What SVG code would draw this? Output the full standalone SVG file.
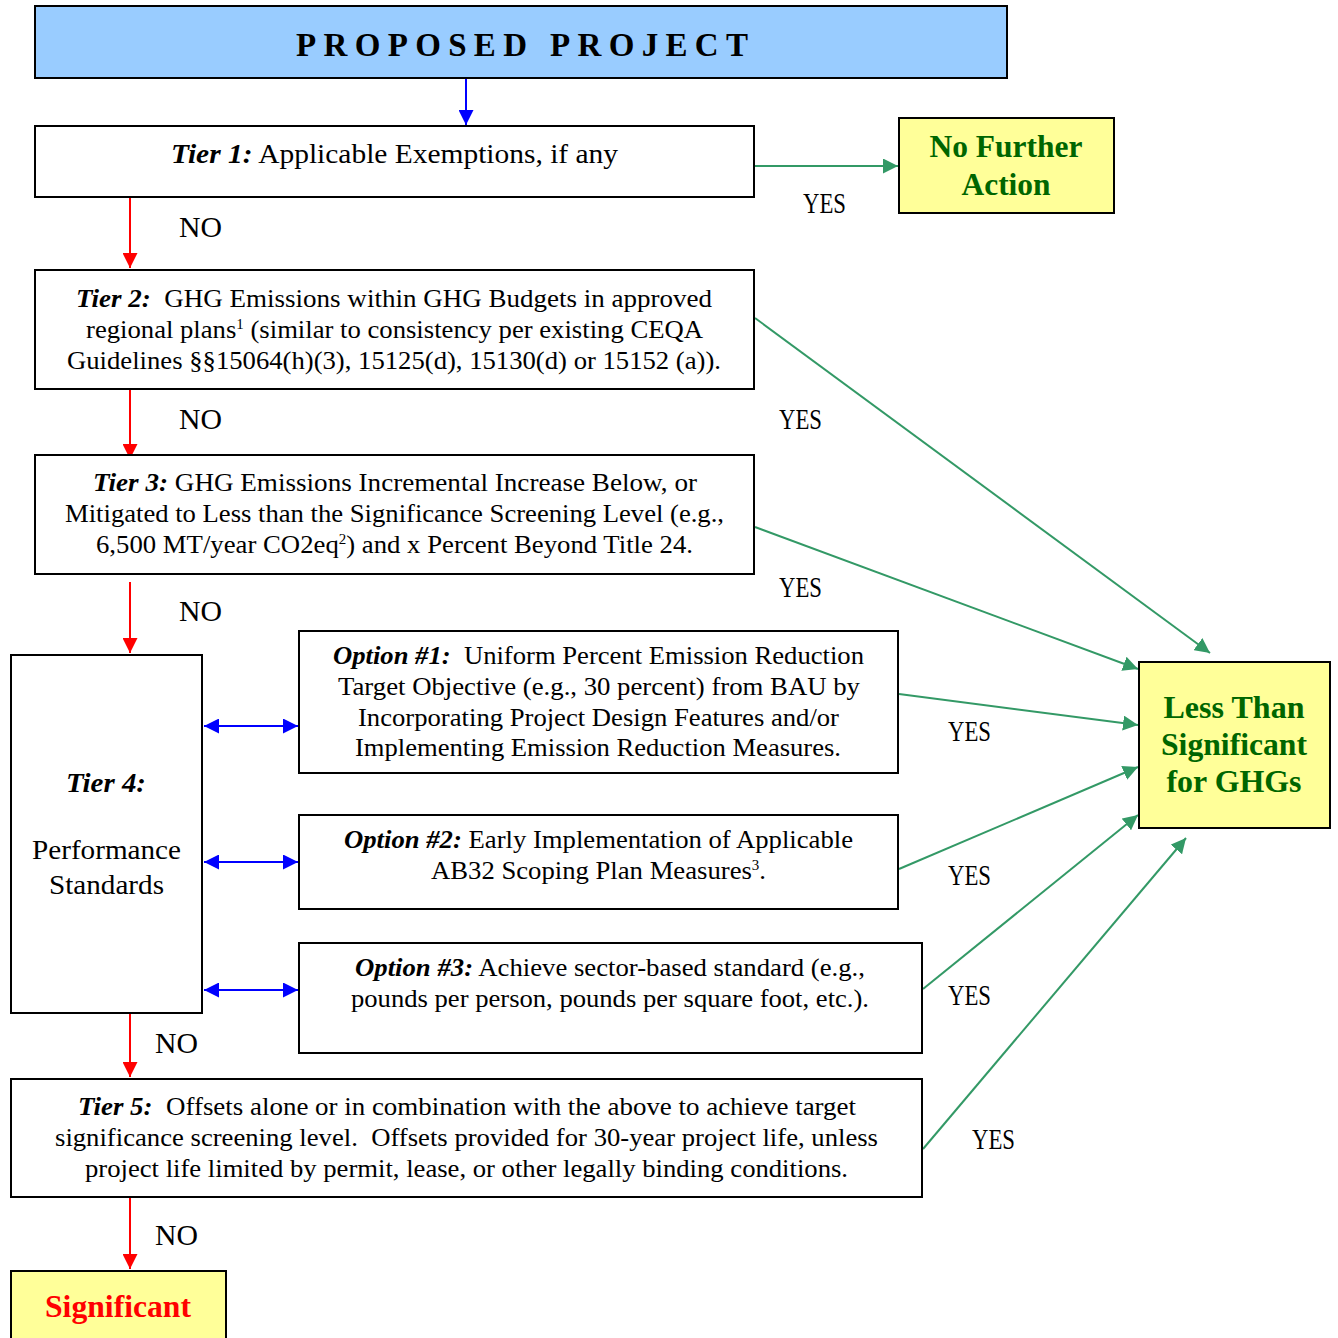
<svg xmlns="http://www.w3.org/2000/svg" width="1338" height="1338" viewBox="0 0 1338 1338">
<style>
.box{fill:#ffffff;stroke:#000000;stroke-width:2}
.yel{fill:#ffff99;stroke:#000000;stroke-width:2}
.t{font-family:"Liberation Serif","Times New Roman",serif;font-size:25px;fill:#000000}
.bi{font-weight:bold;font-style:italic}
.lbl{font-family:"Liberation Serif","Times New Roman",serif;font-size:29px;fill:#000000}
.g{font-family:"Liberation Serif","Times New Roman",serif;font-size:32px;font-weight:bold;fill:#006600;text-anchor:middle}
.sup{font-size:14px}
.red{stroke:#ff0000;stroke-width:2;fill:none}
.blue{stroke:#0000ff;stroke-width:2;fill:none}
.grn{stroke:#339966;stroke-width:2;fill:none}
</style>
<defs>
<marker id="ar" viewBox="0 0 15 15" refX="15" refY="7.5" markerWidth="15" markerHeight="15" markerUnits="userSpaceOnUse" orient="auto"><path d="M0,0 L15,7.5 L0,15 z" fill="#ff0000"/></marker>
<marker id="ab" viewBox="0 0 15 15" refX="15" refY="7.5" markerWidth="15" markerHeight="15" markerUnits="userSpaceOnUse" orient="auto-start-reverse"><path d="M0,0 L15,7.5 L0,15 z" fill="#0000ff"/></marker>
<marker id="ag" viewBox="0 0 15 15" refX="15" refY="7.5" markerWidth="15" markerHeight="15" markerUnits="userSpaceOnUse" orient="auto"><path d="M0,0 L15,7.5 L0,15 z" fill="#339966"/></marker>
</defs>

<g id="connectors">
<line class="blue" x1="466" y1="78" x2="466" y2="125" marker-end="url(#ab)"/>
<line class="red" x1="130" y1="198" x2="130" y2="268" marker-end="url(#ar)"/>
<line class="red" x1="130" y1="390" x2="130" y2="459" marker-end="url(#ar)"/>
<line class="red" x1="130" y1="582" x2="130" y2="653" marker-end="url(#ar)"/>
<line class="red" x1="130" y1="1014" x2="130" y2="1077" marker-end="url(#ar)"/>
<line class="red" x1="130" y1="1198" x2="130" y2="1269" marker-end="url(#ar)"/>
<line class="blue" x1="204" y1="726" x2="298" y2="726" marker-start="url(#ab)" marker-end="url(#ab)"/>
<line class="blue" x1="204" y1="862" x2="298" y2="862" marker-start="url(#ab)" marker-end="url(#ab)"/>
<line class="blue" x1="204" y1="990" x2="298" y2="990" marker-start="url(#ab)" marker-end="url(#ab)"/>
<line class="grn" x1="755" y1="166" x2="898" y2="166" marker-end="url(#ag)"/>
<line class="grn" x1="755" y1="318" x2="1210" y2="653" marker-end="url(#ag)"/>
<line class="grn" x1="755" y1="527" x2="1138" y2="669" marker-end="url(#ag)"/>
<line class="grn" x1="899" y1="694" x2="1138" y2="725" marker-end="url(#ag)"/>
<line class="grn" x1="899" y1="869" x2="1138" y2="767" marker-end="url(#ag)"/>
<line class="grn" x1="923" y1="989" x2="1138" y2="815" marker-end="url(#ag)"/>
<line class="grn" x1="923" y1="1149" x2="1186" y2="838" marker-end="url(#ag)"/>
<text class="lbl" x="179" y="237" textLength="43" lengthAdjust="spacingAndGlyphs">NO</text>
<text class="lbl" x="179" y="429" textLength="43" lengthAdjust="spacingAndGlyphs">NO</text>
<text class="lbl" x="179" y="621" textLength="43" lengthAdjust="spacingAndGlyphs">NO</text>
<text class="lbl" x="155" y="1053" textLength="43" lengthAdjust="spacingAndGlyphs">NO</text>
<text class="lbl" x="155" y="1245" textLength="43" lengthAdjust="spacingAndGlyphs">NO</text>
<text class="lbl" x="803" y="213" textLength="43" lengthAdjust="spacingAndGlyphs">YES</text>
<text class="lbl" x="779" y="429" textLength="43" lengthAdjust="spacingAndGlyphs">YES</text>
<text class="lbl" x="779" y="597" textLength="43" lengthAdjust="spacingAndGlyphs">YES</text>
<text class="lbl" x="948" y="741" textLength="43" lengthAdjust="spacingAndGlyphs">YES</text>
<text class="lbl" x="948" y="885" textLength="43" lengthAdjust="spacingAndGlyphs">YES</text>
<text class="lbl" x="948" y="1005" textLength="43" lengthAdjust="spacingAndGlyphs">YES</text>
<text class="lbl" x="972" y="1149" textLength="43" lengthAdjust="spacingAndGlyphs">YES</text>
</g>

<g id="proposed">
<rect x="35" y="6" width="972" height="72" fill="#99ccff" stroke="#000000" stroke-width="2"/>
<text x="296" y="56" font-family="Liberation Serif, serif" font-size="33" font-weight="bold" textLength="452" lengthAdjust="spacing">PROPOSED PROJECT</text>
</g>

<g id="tier1">
<rect class="box" x="35" y="126" width="719" height="71"/>
<text class="t" x="171" y="163" style="font-size:27px" textLength="447" lengthAdjust="spacingAndGlyphs"><tspan class="bi">Tier 1:</tspan> Applicable Exemptions, if any</text>
</g>

<g id="nofurther">
<rect class="yel" x="899" y="118" width="215" height="95"/>
<text class="g" x="1006" y="157" style="font-size:31px" textLength="153" lengthAdjust="spacingAndGlyphs">No Further</text>
<text class="g" x="1006" y="195" style="font-size:31px" textLength="89" lengthAdjust="spacingAndGlyphs">Action</text>
</g>

<g id="tier2">
<rect class="box" x="35" y="270" width="719" height="119"/>
<text class="t" x="76" y="307" xml:space="preserve" textLength="636" lengthAdjust="spacingAndGlyphs"><tspan class="bi">Tier 2:</tspan>  GHG Emissions within GHG Budgets in approved</text>
<text class="t" x="86" y="338" textLength="617" lengthAdjust="spacingAndGlyphs">regional plans<tspan class="sup" dy="-9">1</tspan><tspan dy="9"> (similar to consistency per existing CEQA</tspan></text>
<text class="t" x="67" y="369" textLength="654" lengthAdjust="spacingAndGlyphs">Guidelines §§15064(h)(3), 15125(d), 15130(d) or 15152 (a)).</text>
</g>

<g id="tier3">
<rect class="box" x="35" y="455" width="719" height="119"/>
<text class="t" x="93" y="491" textLength="604" lengthAdjust="spacingAndGlyphs"><tspan class="bi">Tier 3:</tspan> GHG Emissions Incremental Increase Below, or</text>
<text class="t" x="65" y="522" textLength="659" lengthAdjust="spacingAndGlyphs">Mitigated to Less than the Significance Screening Level (e.g.,</text>
<text class="t" x="96" y="553" textLength="597" lengthAdjust="spacingAndGlyphs">6,500 MT/year CO2eq<tspan class="sup" dy="-9">2</tspan><tspan dy="9">) and x Percent Beyond Title 24.</tspan></text>
</g>

<g id="tier4">
<rect class="box" x="11" y="655" width="191" height="358"/>
<text class="t bi" x="66" y="792" style="font-size:28px" textLength="80" lengthAdjust="spacingAndGlyphs">Tier 4:</text>
<text class="t" x="32" y="859" style="font-size:28px" textLength="149" lengthAdjust="spacingAndGlyphs">Performance</text>
<text class="t" x="49" y="894" style="font-size:28px" textLength="115" lengthAdjust="spacingAndGlyphs">Standards</text>
</g>

<g id="option1">
<rect class="box" x="299" y="631" width="599" height="142"/>
<text class="t" x="333" y="664" xml:space="preserve" textLength="531" lengthAdjust="spacingAndGlyphs"><tspan class="bi">Option #1:</tspan>  Uniform Percent Emission Reduction</text>
<text class="t" x="338" y="695" textLength="522" lengthAdjust="spacingAndGlyphs">Target Objective (e.g., 30 percent) from BAU by</text>
<text class="t" x="358" y="726" textLength="481" lengthAdjust="spacingAndGlyphs">Incorporating Project Design Features and/or</text>
<text class="t" x="355" y="756" textLength="486" lengthAdjust="spacingAndGlyphs">Implementing Emission Reduction Measures.</text>
</g>

<g id="option2">
<rect class="box" x="299" y="815" width="599" height="94"/>
<text class="t" x="344" y="848" textLength="509" lengthAdjust="spacingAndGlyphs"><tspan class="bi">Option #2:</tspan> Early Implementation of Applicable</text>
<text class="t" x="431" y="879" textLength="335" lengthAdjust="spacingAndGlyphs">AB32 Scoping Plan Measures<tspan class="sup" dy="-9">3</tspan><tspan dy="9">.</tspan></text>
</g>

<g id="option3">
<rect class="box" x="299" y="943" width="623" height="110"/>
<text class="t" x="355" y="976" textLength="510" lengthAdjust="spacingAndGlyphs"><tspan class="bi">Option #3:</tspan> Achieve sector-based standard (e.g.,</text>
<text class="t" x="351" y="1007" textLength="518" lengthAdjust="spacingAndGlyphs">pounds per person, pounds per square foot, etc.).</text>
</g>

<g id="lessthan">
<rect class="yel" x="1139" y="662" width="191" height="166"/>
<text class="g" x="1234" y="718" textLength="141" lengthAdjust="spacingAndGlyphs">Less Than</text>
<text class="g" x="1234" y="755" textLength="146" lengthAdjust="spacingAndGlyphs">Significant</text>
<text class="g" x="1234" y="792" textLength="135" lengthAdjust="spacingAndGlyphs">for GHGs</text>
</g>

<g id="tier5">
<rect class="box" x="11" y="1079" width="911" height="118"/>
<text class="t" x="78" y="1115" xml:space="preserve" textLength="778" lengthAdjust="spacingAndGlyphs"><tspan class="bi">Tier 5:</tspan>  Offsets alone or in combination with the above to achieve target</text>
<text class="t" x="55" y="1146" xml:space="preserve" textLength="823" lengthAdjust="spacingAndGlyphs">significance screening level.  Offsets provided for 30-year project life, unless</text>
<text class="t" x="85" y="1177" textLength="763" lengthAdjust="spacingAndGlyphs">project life limited by permit, lease, or other legally binding conditions.</text>
</g>

<g id="significant">
<rect class="yel" x="11" y="1271" width="215" height="80"/>
<text class="g" x="118" y="1317" style="fill:#ff0000;font-size:31px" textLength="146" lengthAdjust="spacingAndGlyphs">Significant</text>
</g>
</svg>
